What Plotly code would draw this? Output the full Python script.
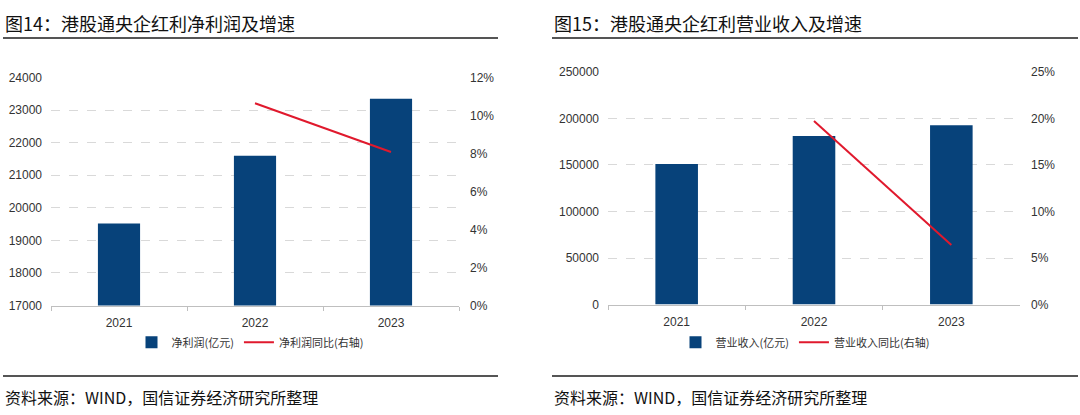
import plotly.graph_objects as go

years = ["2021", "2022", "2023"]
profit = [19520, 21600, 23350]          # 净利润(亿元)
profit_yoy = [None, 10.65, 8.08]        # 净利润同比(%)
revenue = [151000, 181000, 192500]      # 营业收入(亿元)
revenue_yoy = [None, 19.7, 6.4]         # 营业收入同比(%)

left_yticks = [17000, 18000, 19000, 20000, 21000, 22000, 23000, 24000]
left_rticks = [0, 2, 4, 6, 8, 10, 12]
right_yticks = [0, 50000, 100000, 150000, 200000, 250000]
right_rticks = [0, 5, 10, 15, 20, 25]

BAR = "#07427a"
RED = "#e0192d"
TXT = "#333333"
W, H = 1080, 415

def px_x(x):
    return x / W

def px_y(y):
    return (H - y) / H

cjk = "Noto Sans CJK SC"
num = "Liberation Sans, Arial"

fig = go.Figure()
fig.add_trace(go.Bar(x=years, y=profit, name="净利润(亿元)", marker_color=BAR,
                     marker_line_width=0, width=0.31, xaxis="x", yaxis="y", legend="legend"))
fig.add_trace(go.Scatter(x=years, y=profit_yoy, name="净利润同比(右轴)", mode="lines",
                         line=dict(color=RED, width=2), xaxis="x", yaxis="y2", legend="legend"))
fig.add_trace(go.Bar(x=years, y=revenue, name="营业收入(亿元)", marker_color=BAR,
                     marker_line_width=0, width=0.31, xaxis="x2", yaxis="y3", legend="legend2"))
fig.add_trace(go.Scatter(x=years, y=revenue_yoy, name="营业收入同比(右轴)", mode="lines",
                         line=dict(color=RED, width=2), xaxis="x2", yaxis="y4", legend="legend2"))

xcommon = dict(type="category", range=[-0.5, 2.5], showline=True, linecolor="#bfbfbf", linewidth=1,
               ticks="outside", ticklen=4, tickcolor="#bfbfbf", tickson="boundaries",
               showgrid=False, tickfont=dict(family=num, size=12, color=TXT), fixedrange=True,
               ticklabelstandoff=6)
ycommon = dict(showgrid=True, gridcolor="#d9d9d9", griddash="dash", gridwidth=1, zeroline=False,
               showline=False, ticks="", tickfont=dict(family=num, size=12, color=TXT),
               ticklabelstandoff=8)

fig.update_layout(
    width=W, height=H, margin=dict(l=0, r=0, t=0, b=0),
    paper_bgcolor="white", plot_bgcolor="white", barmode="group",
    xaxis=dict(domain=[px_x(51), px_x(459)], anchor="y", **xcommon),
    yaxis=dict(domain=[px_y(309), px_y(73)], range=[17000, 24000], tickvals=left_yticks,
               ticktext=[str(v) for v in left_yticks], anchor="x", **ycommon),
    yaxis2=dict(overlaying="y", side="right", anchor="x", range=[0, 12], tickvals=left_rticks,
                ticktext=[f"{v}%" for v in left_rticks], showgrid=False, zeroline=False, ticks="",
                tickfont=dict(family=num, size=12, color=TXT), ticklabelstandoff=10),
    xaxis2=dict(domain=[px_x(608), px_x(1020)], anchor="y3", **xcommon),
    yaxis3=dict(domain=[px_y(308), px_y(67)], range=[0, 250000], tickvals=right_yticks,
                ticktext=[str(v) for v in right_yticks], anchor="x2", **ycommon),
    yaxis4=dict(overlaying="y3", side="right", anchor="x2", range=[0, 25], tickvals=right_rticks,
                ticktext=[f"{v}%" for v in right_rticks], showgrid=False, zeroline=False, ticks="",
                tickfont=dict(family=num, size=12, color=TXT), ticklabelstandoff=10),
    legend=dict(orientation="h", x=px_x(250), y=px_y(347), xanchor="center", yanchor="middle",
                font=dict(family=cjk, size=11, color=TXT), bgcolor="rgba(0,0,0,0)",
                itemwidth=30, tracegroupgap=0),
    legend2=dict(orientation="h", x=px_x(805), y=px_y(347), xanchor="center", yanchor="middle",
                 font=dict(family=cjk, size=11, color=TXT), bgcolor="rgba(0,0,0,0)",
                 itemwidth=30, tracegroupgap=0),
    showlegend=True,
)

annotations = [
    dict(text="图14：港股通央企红利净利润及增速", x=px_x(3), y=px_y(17), xanchor="left", yanchor="middle"),
    dict(text="图15：港股通央企红利营业收入及增速", x=px_x(552), y=px_y(17), xanchor="left", yanchor="middle"),
]
for a in annotations:
    fig.add_annotation(xref="paper", yref="paper", showarrow=False,
                       font=dict(family=cjk, size=18, color="#111111"), **a)
for x0 in (3, 552):
    fig.add_annotation(text="资料来源：WIND，国信证券经济研究所整理", xref="paper", yref="paper",
                       x=px_x(x0), y=px_y(404), xanchor="left", yanchor="middle", showarrow=False,
                       font=dict(family=cjk, size=16, color="#111111"))

for (x0, x1) in ((3, 498), (552, 1078)):
    for y in (32, 382):
        fig.add_shape(type="line", xref="paper", yref="paper", x0=px_x(x0), x1=px_x(x1),
                      y0=px_y(y), y1=px_y(y), line=dict(color="#555555", width=2))

fig.write_html("out.html")
